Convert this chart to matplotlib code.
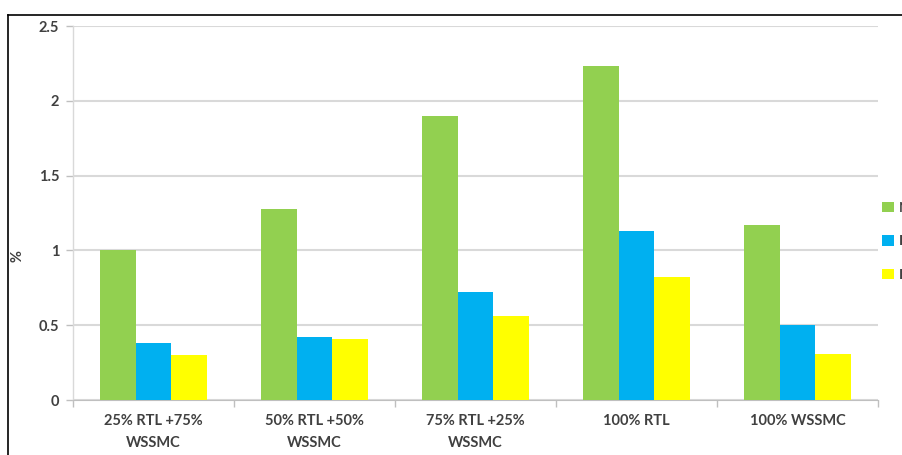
import matplotlib
matplotlib.use("Agg")
import matplotlib.pyplot as plt
import numpy as np
from matplotlib.lines import Line2D

# === Data ===
categories = ["25% RTL +75%\nWSSMC", "50% RTL +50%\nWSSMC", "75% RTL +25%\nWSSMC",
              "100% RTL", "100% WSSMC"]
series_names = ["N", "P", "K"]
n_vals = [1.00, 1.28, 1.90, 2.23, 1.17]
p_vals = [0.38, 0.42, 0.72, 1.13, 0.50]
k_vals = [0.30, 0.41, 0.56, 0.82, 0.31]
y_ticks = [0, 0.5, 1, 1.5, 2, 2.5]
y_tick_labels = ["0", "0.5", "1", "1.5", "2", "2.5"]

colors = ["#92d050", "#00b0f0", "#ffff00"]

plt.rcParams['font.family'] = ['Lato', 'DejaVu Sans']
plt.rcParams['font.weight'] = 'bold'

fig = plt.figure(figsize=(9.03, 4.55), dpi=100)
ax = fig.add_axes([73/903, 55/455, 805/903, 374/455])

x = np.arange(len(categories))
w = 0.222
handles = []
for i, (vals, c) in enumerate(zip([n_vals, p_vals, k_vals], colors)):
    b = ax.bar(x + (i - 1) * w, vals, width=w, color=c, zorder=3)
    handles.append(b)

ax.set_xlim(-0.5, len(categories) - 0.5)
ax.set_ylim(0, 2.5)
ax.set_yticks(y_ticks)
ax.set_yticklabels(y_tick_labels)
ax.set_xticks(x)
ax.set_xticklabels(categories, linespacing=1.75)
ax.set_xticks(np.arange(len(categories) + 1) - 0.5, minor=True)
ax.tick_params(axis='x', which='major', length=0, pad=10, labelsize=10.5, colors='#404040')
ax.tick_params(axis='x', which='minor', length=5, color='#bfbfbf', width=1)
ax.tick_params(axis='y', length=5, color='#bfbfbf', width=1, labelsize=10.5, colors='#404040', pad=5)

ax.grid(axis='y', color='#d9d9d9', linewidth=1.5, zorder=0)
for s in ['top', 'right']:
    ax.spines[s].set_visible(False)
ax.spines['left'].set_color('#d9d9d9')
ax.spines['bottom'].set_color('#bfbfbf')
ax.spines['left'].set_linewidth(1)

fig.text(17/903, 1 - 256/455, "%", rotation=90, ha='center', va='center',
         fontsize=10.5, color='#404040', fontweight='bold')

# legend sits partly outside the crop, as in the reference
leg = fig.legend(handles, series_names, loc='upper left',
                 bbox_to_anchor=(870/903, 1 - 189/455), frameon=False,
                 handlelength=0.8, handleheight=0.8, handletextpad=0.35,
                 labelspacing=1.55, fontsize=10)
for t in leg.get_texts():
    t.set_color('#404040')

# outer frame (left and top edges visible in the crop)
fig.add_artist(Line2D([8/903, 8/903], [0, 1 - 15/455], transform=fig.transFigure,
                      color='black', linewidth=1.2))
fig.add_artist(Line2D([8/903, 1], [1 - 15/455, 1 - 15/455], transform=fig.transFigure,
                      color='black', linewidth=1.2))

fig.savefig("out.png", dpi=100)
